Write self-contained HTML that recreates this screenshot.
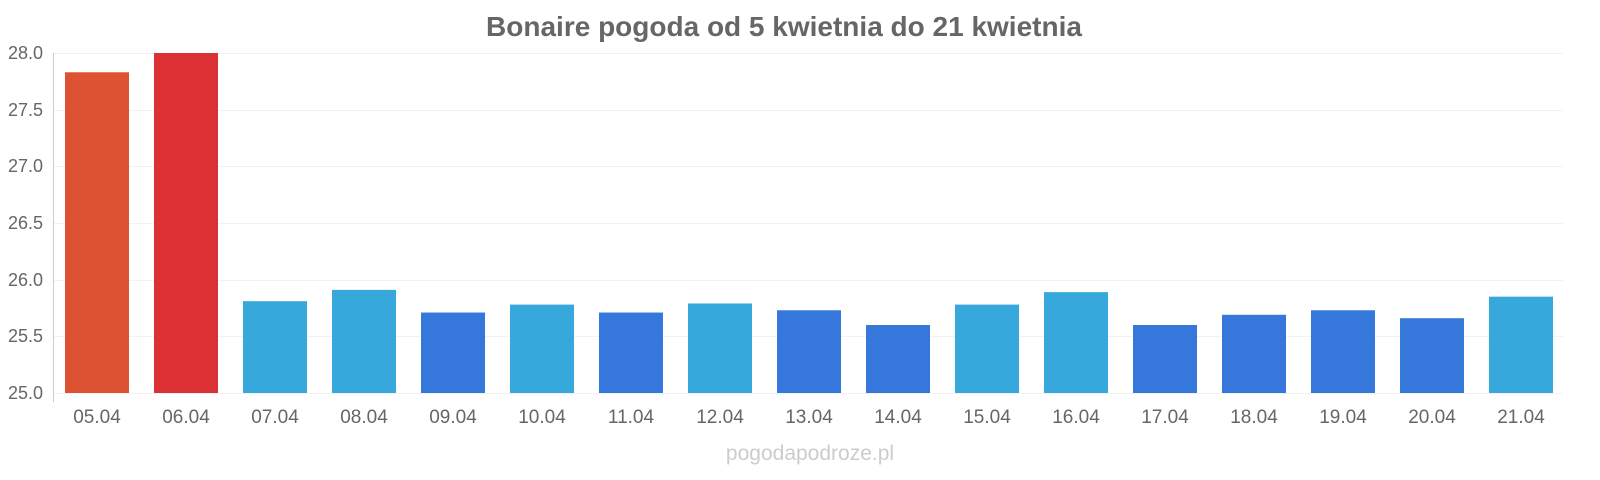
<!DOCTYPE html><html><head><style>body{margin:0;background:#fff}svg{display:block;font-family:"Liberation Sans",sans-serif}</style></head><body>
<svg width="1600" height="480" xmlns="http://www.w3.org/2000/svg">
<text x="784" y="36" text-anchor="middle" font-size="28" font-weight="bold" fill="#666">Bonaire pogoda od 5 kwietnia do 21 kwietnia</text>
<g stroke="#f2f2f2" stroke-width="1">
<line x1="53" x2="1563" y1="53.5" y2="53.5"/><line x1="53" x2="1563" y1="110.5" y2="110.5"/><line x1="53" x2="1563" y1="166.5" y2="166.5"/><line x1="53" x2="1563" y1="223.5" y2="223.5"/><line x1="53" x2="1563" y1="280.5" y2="280.5"/><line x1="53" x2="1563" y1="336.5" y2="336.5"/><line x1="53" x2="1563" y1="393.5" y2="393.5"/>
</g>
<line x1="53.5" x2="53.5" y1="53" y2="402" stroke="#ccc"/>
<g font-size="18" fill="#666" text-anchor="end">
<text x="43" y="59">28.0</text><text x="43" y="116">27.5</text><text x="43" y="172">27.0</text><text x="43" y="229">26.5</text><text x="43" y="286">26.0</text><text x="43" y="342">25.5</text><text x="43" y="399">25.0</text>
</g>
<g id="bars"></g>
<g id="labels" font-size="19" fill="#666" text-anchor="middle"></g>
<text x="810" y="460" text-anchor="middle" font-size="21" fill="#ccc">pogodapodroze.pl</text>
<script>
var v=[27.83,28.0,25.81,25.91,25.71,25.78,25.71,25.79,25.73,25.6,25.78,25.89,25.6,25.69,25.73,25.66,25.85];
var c=['#dd5233','#dc3134','#36a8db','#36a8db','#3577db','#36a8db','#3577db','#36a8db','#3577db','#3577db','#36a8db','#36a8db','#3577db','#3577db','#3577db','#3577db','#36a8db'];
var ns='http://www.w3.org/2000/svg',b=document.getElementById('bars'),l=document.getElementById('labels');
for(var i=0;i<17;i++){var y=393-(v[i]-25)*113.33;var r=document.createElementNS(ns,'rect');r.setAttribute('x',65+89*i);r.setAttribute('y',y);r.setAttribute('width',64);r.setAttribute('height',393-y);r.setAttribute('fill',c[i]);b.appendChild(r);
var t=document.createElementNS(ns,'text');t.setAttribute('x',97+89*i);t.setAttribute('y',423);t.textContent=String(i+5).padStart(2,'0')+'.04';l.appendChild(t);}
</script>
</svg></body></html>
